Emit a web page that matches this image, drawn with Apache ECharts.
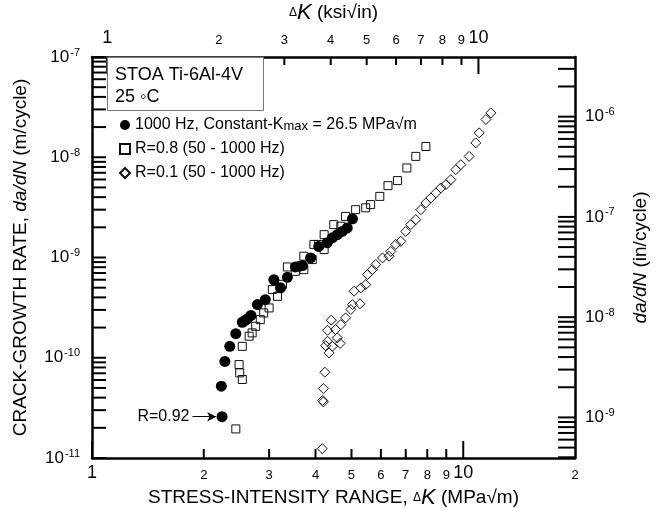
<!DOCTYPE html>
<html>
<head>
<meta charset="utf-8">
<title>STOA Ti-6Al-4V crack growth</title>
<script src="https://cdn.jsdelivr.net/npm/echarts@6/dist/echarts.min.js"></script>
<style>
html, body { margin: 0; padding: 0; background: #fff; }
#chart { width: 659px; height: 508px; }
</style>
</head>
<body>
<div id="chart"></div>
<script>
// [ΔK (MPa√m), da/dN (m/cycle)]
var kmax1000Hz = [
  [2.24, 2.58e-11], [2.23, 5.2e-11], [2.28, 9.2e-11], [2.35, 1.30e-10], [2.44, 1.74e-10],
  [2.54, 2.26e-10], [2.58, 2.35e-10], [2.62, 2.44e-10], [2.68, 2.64e-10], [2.79, 3.39e-10],
  [2.93, 3.80e-10], [3.09, 6.0e-10], [3.22, 4.98e-10], [3.36, 6.35e-10], [3.53, 8.05e-10],
  [3.62, 8.2e-10], [3.69, 8.3e-10], [3.88, 9.9e-10], [4.08, 1.29e-9], [4.30, 1.40e-9],
  [4.44, 1.57e-9], [4.58, 1.69e-9], [4.72, 1.82e-9], [4.87, 1.97e-9], [5.03, 2.43e-9]
];
var r08 = [
  [2.44, 1.95e-11], [2.54, 6.07e-11], [2.50, 7.07e-11], [2.49, 8.55e-11], [2.54, 1.30e-10],
  [2.65, 1.64e-10], [2.70, 1.77e-10], [2.76, 2.06e-10], [2.84, 2.40e-10], [2.90, 2.80e-10],
  [3.00, 3.14e-10], [3.06, 4.79e-10], [3.16, 4.10e-10], [3.26, 5.4e-10], [3.36, 8.05e-10],
  [3.53, 7.28e-10], [3.72, 7.57e-10], [3.72, 1.03e-9], [3.92, 9.53e-10], [3.96, 1.35e-9],
  [4.08, 1.35e-9], [4.22, 1.20e-9], [4.22, 1.69e-9], [4.48, 2.13e-9], [4.68, 2.05e-9],
  [4.82, 2.57e-9], [5.13, 3.0e-9], [5.46, 3.13e-9], [5.63, 3.37e-9], [5.96, 4.07e-9],
  [6.27, 5.21e-9], [6.65, 5.85e-9], [7.05, 7.82e-9], [7.45, 1.02e-8], [7.93, 1.28e-8]
];
var r01 = [
  [4.17, 1.24e-11], [4.20, 3.63e-11], [4.18, 3.75e-11], [4.20, 4.93e-11], [4.24, 7.17e-11],
  [4.35, 1.12e-10], [4.26, 1.32e-10], [4.44, 1.30e-10], [4.31, 1.46e-10], [4.66, 1.39e-10],
  [4.58, 1.58e-10], [4.31, 1.88e-10], [4.41, 2.37e-10], [4.53, 1.91e-10], [4.68, 2.14e-10],
  [4.82, 2.50e-10], [4.98, 3.03e-10], [5.03, 3.39e-10], [5.27, 3.45e-10], [5.08, 4.61e-10],
  [5.30, 4.98e-10], [5.46, 5.37e-10], [5.52, 6.76e-10], [5.69, 7.57e-10], [5.81, 8.5e-10],
  [6.06, 9.9e-10], [6.31, 1.03e-9], [6.38, 1.15e-9], [6.58, 1.35e-9], [6.79, 1.45e-9],
  [7.00, 1.82e-9], [7.22, 2.13e-9], [7.45, 2.39e-9], [7.69, 3.0e-9], [7.93, 3.50e-9],
  [8.18, 3.93e-9], [8.44, 4.41e-9], [8.70, 4.94e-9], [8.98, 5.33e-9], [9.26, 5.98e-9],
  [9.55, 7.52e-9], [9.85, 8.44e-9], [10.37, 1.02e-8], [10.81, 1.39e-8], [11.04, 1.75e-8],
  [11.51, 2.38e-8], [11.87, 2.77e-8]
];
var r092Point = [2.24, 2.58e-11];

// axis ranges, labels and ticks
var KSI = 1.0988;     // MPa√m per ksi√in
var IN = 39.37;       // in per m
var xMin = 1, xMax = 20;
var yMin = 1e-11, yMax = 1e-7;
var xLabels = [1, 2, 3, 4, 5, 6, 7, 8, 9, 10, 20];
var topLabels = [1, 2, 3, 4, 5, 6, 7, 8, 9, 10];
var xMajorTicks = [1, 10];
var xMinorTicks = [2, 3, 4, 5, 6, 7, 8, 9];
var topMajorTicks = [1, 10];
var topMinorTicks = [2, 3, 4, 5, 6, 7, 8, 9];

var FONT = '"Liberation Sans", Arial, sans-serif';

function logTicks(lo, hi) {
  var out = [];
  for (var e = Math.floor(Math.log10(lo)) - 1; e <= Math.ceil(Math.log10(hi)); e++) {
    for (var k = 1; k <= 9; k++) {
      var v = parseFloat((k * Math.pow(10, e)).toPrecision(6));
      if (v >= lo * 0.9999 && v <= hi * 1.0001) out.push(v);
    }
  }
  return out;
}
var yTicks = logTicks(yMin, yMax);
var rightTicks = logTicks(yMin * IN, yMax * IN);

function expLabel(v) {
  return '{b|10}{s|' + Math.round(Math.log10(v)) + '}';
}
var expRich = {
  b: { fontSize: 17, lineHeight: 20, fontFamily: FONT, color: '#000' },
  s: { fontSize: 11, lineHeight: 20, verticalAlign: 'top', fontFamily: FONT, color: '#000', padding: [0, 0, 0, 1] }
};
function kLabel(v) {
  var r = Math.round(v);
  if (r === 20) return '{s|2}';
  if (r === 1 || r === 10) return '{b|' + r + '}';
  return '{s|' + r + '}';
}
var kRich = {
  b: { fontSize: 18, lineHeight: 20, verticalAlign: 'bottom', fontFamily: FONT, color: '#000' },
  s: { fontSize: 13, lineHeight: 20, verticalAlign: 'bottom', fontFamily: FONT, color: '#000' }
};
var nameRich = {
  n: { fontSize: 19, fontFamily: FONT, color: '#000' },
  d: { fontSize: 12, fontFamily: FONT, color: '#000' },
  k: { fontSize: 22, fontStyle: 'italic', fontFamily: FONT, color: '#000' },
  i: { fontSize: 19, fontStyle: 'italic', fontFamily: FONT, color: '#000' }
};

function line() {
  return { show: true, onZero: false, lineStyle: { color: '#000', width: 2.5 } };
}

var boxGraphic = [
  {
    id: 'box', type: 'rect', left: 107, top: 57, z: 100,
    shape: { width: 156, height: 53 },
    style: { fill: '#fff', stroke: '#777', lineWidth: 1 }
  },
  {
    id: 'alloy', type: 'text', left: 115, top: 66, z: 101,
    style: { text: 'STOA Ti-6Al-4V', font: '18px ' + FONT, fill: '#000' }
  },
  {
    id: 'temp', type: 'text', left: 115, top: 88, z: 101,
    style: { text: '25 ◦C', font: '18px ' + FONT, fill: '#000' }
  }
];

var chart = echarts.init(document.getElementById('chart'));
chart.setOption({
  animation: false,
  backgroundColor: '#fff',
  grid: { left: 92, right: 84, top: 57, bottom: 50, outerBoundsMode: 'none', containLabel: false },
  xAxis: [
    {
      type: 'log', position: 'bottom', min: xMin, max: xMax,
      axisLine: line(), axisTick: { show: false },
      axisLabel: { margin: 4, formatter: kLabel, rich: kRich, customValues: xLabels },
      splitLine: { show: false },
      name: '{n|STRESS-INTENSITY RANGE, }{d|Δ}{k|K}{n| (MPa√m)}',
      nameLocation: 'middle', nameGap: 27, nameTextStyle: { rich: nameRich }
    },
    {
      type: 'log', position: 'top', min: xMin / KSI, max: xMax / KSI,
      axisLine: line(), axisTick: { show: false },
      axisLabel: { margin: 10, formatter: kLabel, rich: kRich, customValues: topLabels },
      splitLine: { show: false },
      name: '{d|Δ}{k|K}{n| (ksi√in)}',
      nameLocation: 'middle', nameGap: 31, nameTextStyle: { rich: nameRich }
    }
  ],
  yAxis: [
    {
      type: 'log', position: 'left', min: yMin, max: yMax,
      axisLine: line(), axisTick: { show: false },
      axisLabel: { margin: 12, formatter: expLabel, rich: expRich },
      splitLine: { show: false },
      name: '{n|CRACK-GROWTH RATE, }{i|da/dN}{n| (m/cycle)}',
      nameLocation: 'middle', nameGap: 62, nameTextStyle: { rich: nameRich }
    },
    {
      type: 'log', position: 'right', min: yMin * IN, max: yMax * IN,
      axisLine: line(), axisTick: { show: false },
      axisLabel: { margin: 10, formatter: expLabel, rich: expRich, showMinLabel: false, showMaxLabel: false },
      splitLine: { show: false },
      name: '{i|da/dN}{n| (in/cycle)}',
      nameLocation: 'middle', nameGap: 56, nameTextStyle: { rich: nameRich }
    }
  ],
  legend: {
    orient: 'vertical', left: 114, top: 112, itemGap: 8,
    itemWidth: 10, itemHeight: 10,
    textStyle: {
      fontSize: 16, lineHeight: 16, fontFamily: FONT, color: '#000',
      rich: {
        t: { fontSize: 16, fontFamily: FONT, color: '#000' },
        sub: { fontSize: 13, fontFamily: FONT, color: '#000', verticalAlign: 'bottom', lineHeight: 12 }
      }
    },
    formatter: function (name) {
      if (name === 'kmax') return '{t|1000 Hz, Constant-K}{sub|max}{t| = 26.5 MPa√m}';
      return name;
    },
    data: ['kmax', 'R=0.8 (50 - 1000 Hz)', 'R=0.1 (50 - 1000 Hz)']
  },
  graphic: boxGraphic,
  series: [
    {
      name: 'R=0.8 (50 - 1000 Hz)', type: 'scatter', data: r08, z: 2,
      symbol: 'rect', symbolSize: 8,
      itemStyle: { color: 'rgba(255,255,255,0)', borderColor: '#111', borderWidth: 1, opacity: 1 }
    },
    {
      name: 'R=0.1 (50 - 1000 Hz)', type: 'scatter', data: r01, z: 2,
      symbol: 'diamond', symbolSize: 10,
      itemStyle: { color: 'rgba(255,255,255,0)', borderColor: '#111', borderWidth: 1, opacity: 1 }
    },
    {
      name: 'kmax', type: 'scatter', data: kmax1000Hz, z: 3,
      symbol: 'circle', symbolSize: 11,
      itemStyle: { color: '#000', opacity: 1 },
      markLine: {
        silent: true, animation: false,
        symbol: ['none', 'arrow'], symbolSize: [7, 9],
        lineStyle: { color: '#000', width: 1, type: 'solid', opacity: 1 },
        label: { show: true, position: 'start', distance: 3, formatter: 'R=0.92', fontSize: 16, fontFamily: FONT, color: '#000' },
        data: [[{ coord: [1.865, r092Point[1]] }, { coord: [2.16, r092Point[1]] }]]
      }
    }
  ]
});

// tick marks: positions come from the axes via convertToPixel
try {
  var tickEls = [];
  var axisPx = function (finder, v, nudge) {
    var p = chart.convertToPixel(finder, v);
    if (p == null || isNaN(p)) p = chart.convertToPixel(finder, v * nudge);
    return p;
  };
  var addTick = function (x, y, dx, dy) {
    if (x == null || y == null || isNaN(x) || isNaN(y)) return;
    tickEls.push({
      type: 'line', silent: true, z: 99,
      shape: { x1: x, y1: y, x2: x + dx, y2: y + dy },
      style: { stroke: '#000', lineWidth: 2 }
    });
  };
  var yBottom = axisPx({ yAxisIndex: 0 }, yMin, 1.0001);
  var yTop = axisPx({ yAxisIndex: 0 }, yMax, 0.9999);
  var xLeft = axisPx({ xAxisIndex: 0 }, xMin, 1.0001);
  var xRight = axisPx({ xAxisIndex: 0 }, xMax, 0.9999);

  xMajorTicks.forEach(function (v) { addTick(axisPx({ xAxisIndex: 0 }, v, 1.0001), yBottom, 0, -17); });
  xMinorTicks.forEach(function (v) { addTick(axisPx({ xAxisIndex: 0 }, v, 1.0001), yBottom, 0, -9); });
  topMajorTicks.forEach(function (v) { addTick(axisPx({ xAxisIndex: 1 }, v, 1.0001), yTop, 0, 17); });
  topMinorTicks.forEach(function (v) { addTick(axisPx({ xAxisIndex: 1 }, v, 1.0001), yTop, 0, 8); });
  yTicks.forEach(function (v) { addTick(xLeft, axisPx({ yAxisIndex: 0 }, v, 1.0001), 14, 0); });
  rightTicks.forEach(function (v) { addTick(xRight, axisPx({ yAxisIndex: 1 }, v, 1.0001), -17, 0); });

  chart.setOption({ graphic: boxGraphic.concat(tickEls) });
} catch (e) {
  console.error(e);
}
</script>
</body>
</html>
